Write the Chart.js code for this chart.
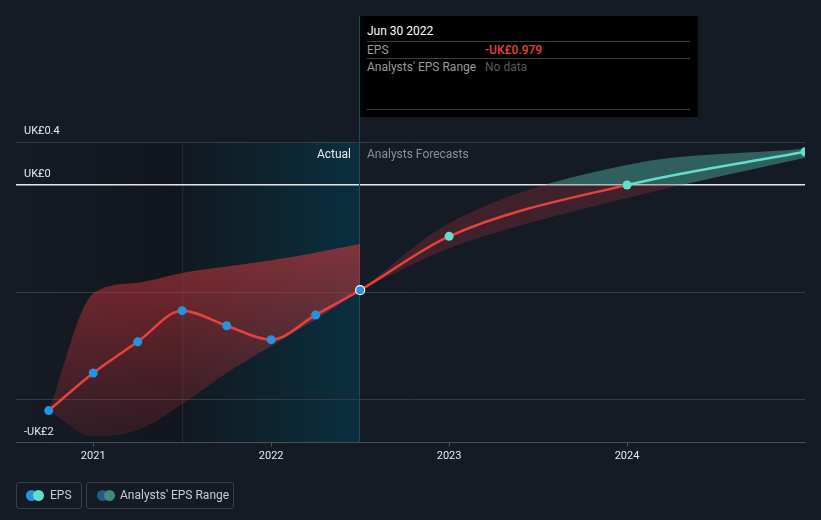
<!DOCTYPE html>
<html><head><meta charset="utf-8">
<script src="https://cdn.jsdelivr.net/npm/chart.js@4/dist/chart.umd.min.js"></script>
<style>
body{margin:0;background:#151b25;font-family:Roboto,"Open Sans",sans-serif;}
#wrap{position:relative;width:821px;height:520px;overflow:hidden;}
#c{position:absolute;left:0;top:0;}
#tip{position:absolute;left:360px;top:16px;width:338px;height:101px;background:#000;}
#tip .t{position:absolute;left:7px;top:8px;font-size:12px;color:#fff;}
#tip .hr{position:absolute;left:7px;width:323px;height:1px;background:#3e3e3e;}
#tip .k{position:absolute;left:7px;font-size:12px;color:#9a9a9a;}
#tip .v{position:absolute;left:125px;font-size:12px;}
.lg{position:absolute;top:482px;height:27px;border:1px solid #3b404a;border-radius:3px;box-sizing:border-box;}
.lg .d{position:absolute;top:7px;width:11px;height:11px;border-radius:50%;}
.lg span{position:absolute;top:5px;font-size:12px;color:#c9ccd1;white-space:nowrap;}
</style></head><body>
<div id="wrap"><canvas id="c" width="821" height="520"></canvas>
<div id="tip"></div>
<div class="lg" style="left:16px;width:66px"><div class="d" style="left:9px;background:#2594e0"></div><div class="d" style="left:16px;background:#5fe0cb"></div><span style="left:33px">EPS</span></div>
<div class="lg" style="left:86px;width:148px"><div class="d" style="left:10px;background:#1f5c86"></div><div class="d" style="left:17px;background:#3e8a80"></div><span style="left:33px">Analysts' EPS Range</span></div>
</div>
<script>
// ---- data ----
const actualX   = [2020.75, 2021.0, 2021.25, 2021.5, 2021.75, 2022.0, 2022.25, 2022.5];
const actualEPS = [-2.10, -1.75, -1.46, -1.17, -1.31, -1.44, -1.21, -0.979];
const pastHigh  = [-2.10, -1.01, -0.91, -0.82, -0.76, -0.70, -0.63, -0.55];
const pastLow   = [-2.10, -2.34, -2.28, -2.04, -1.75, -1.50, -1.25, -0.98];
const forecastX    = [2022.5, 2023.0, 2024.0, 2025.0];
const forecastEPS  = [-0.979, -0.478, 0.0, 0.309];
const forecastHigh = [-0.979, -0.356, 0.187, 0.337];
const forecastLow  = [-0.979, -0.590, -0.122, 0.253];
const xTickYears = [2021, 2022, 2023, 2024];
const yGridValues = [0.4, 0, -1, -2];
const yLabelValues = [0.4, 0, -2];
const yLabelTexts = ['UK£0.4', 'UK£0', '-UK£2'];
const tipDate = 'Jun 30 2022';
const tipEPS = -0.979;

const RED = '#e5423f', TEAL = '#5fe0cb', BLUE = '#2594e0';

// tooltip box
const tip = document.getElementById('tip');
tip.innerHTML =
 `<div class="t">${tipDate}</div><div class="hr" style="top:25px"></div>
  <div class="k" style="top:27px">EPS</div><div class="v" style="top:27px;color:#e5423f;font-weight:500">${tipEPS<0?'-':''}UK£${Math.abs(tipEPS).toFixed(3)}</div>
  <div class="hr" style="top:42px"></div>
  <div class="k" style="top:44px">Analysts' EPS Range</div><div class="v" style="top:44px;color:#5a5a5a">No data</div>
  <div class="hr" style="top:93px"></div>`;

const pts = (xs, ys) => xs.map((x, i) => ({x, y: ys[i]}));
const epsX = actualX.concat(forecastX.slice(1));
const epsY = actualEPS.concat(forecastEPS.slice(1));
const nAct = actualX.length;

function pastFill(ctx) {
  const ch = ctx.chart, ca = ch.chartArea;
  if (!ca) return 'rgba(200,50,55,0.4)';
  const y = ch.scales.y;
  const g = ch.ctx.createLinearGradient(0, y.getPixelForValue(-0.6), 0, y.getPixelForValue(-2.35));
  g.addColorStop(0, 'rgba(210,55,60,0.58)');
  g.addColorStop(1, 'rgba(180,45,55,0.18)');
  return g;
}
function fcFill(ctx) {
  const ch = ctx.chart, ca = ch.chartArea;
  if (!ca) return 'rgba(200,50,55,0.3)';
  const y = ch.scales.y;
  const z = (y.getPixelForValue(0) - ca.top) / (ca.bottom - ca.top);
  const g = ch.ctx.createLinearGradient(0, ca.top, 0, ca.bottom);
  g.addColorStop(0, 'rgba(75,165,150,0.5)');
  g.addColorStop(z, 'rgba(75,165,150,0.5)');
  g.addColorStop(Math.min(1, z + 0.0001), 'rgba(175,50,60,0.28)');
  g.addColorStop(1, 'rgba(175,50,60,0.28)');
  return g;
}

const bgPlugin = {
  id: 'bg',
  beforeDraw(ch) {
    const c = ch.ctx, ca = ch.chartArea, x = ch.scales.x;
    c.save();
    c.fillStyle = '#151b25';
    c.fillRect(0, 0, ch.width, ch.height);
    const a = x.getPixelForValue(2021.5), b = x.getPixelForValue(2022.5);
    let g = c.createLinearGradient(ca.left, 0, a, 0);
    g.addColorStop(0, 'rgba(0,0,0,0)'); g.addColorStop(1, 'rgba(0,0,0,0.2)');
    c.fillStyle = g; c.fillRect(ca.left, ca.top, a - ca.left, ca.bottom - ca.top);
    g = c.createLinearGradient(a, 0, b, 0);
    g.addColorStop(0, '#111920'); g.addColorStop(1, '#0a2f3f');
    c.fillStyle = g; c.fillRect(a, ca.top, b - a, ca.bottom - ca.top);
    c.fillStyle = 'rgba(45,95,115,0.35)'; c.fillRect(a, ca.top, 1, ca.bottom - ca.top);
    c.restore();
  },
  beforeDatasetsDraw(ch) {
    const c = ch.ctx, ca = ch.chartArea, x = ch.scales.x;
    const b = Math.round(x.getPixelForValue(2022.5)) - 1;
    c.save();
    c.fillStyle = '#1d4b5e';
    c.fillRect(b, 16, 1, ca.bottom - 16);
    c.font = '12px Roboto, "Open Sans", sans-serif';
    c.textBaseline = 'middle';
    c.textAlign = 'right'; c.fillStyle = '#e8eaed';
    c.fillText('Actual', b - 8, ca.top + 13);
    c.textAlign = 'left'; c.fillStyle = '#8a9099';
    c.fillText('Analysts Forecasts', b + 8, ca.top + 13);
    c.restore();
  },
  afterDatasetsDraw(ch) {
    const c = ch.ctx, ca = ch.chartArea, y = ch.scales.y;
    c.save();
    c.font = '11px Roboto, "Open Sans", sans-serif';
    c.textBaseline = 'middle'; c.textAlign = 'left'; c.fillStyle = '#e8eaed';
    yLabelValues.forEach((v, i) => {
      let py = y.getPixelForValue(v) - 11;
      if (i === yLabelValues.length - 1) py = ca.bottom - 11;
      c.fillText(yLabelTexts[i], ca.left + 8, py);
    });
    c.restore();
  }
};

new Chart(document.getElementById('c'), {
  type: 'line',
  data: {
    datasets: [
      { label: 'EPS', data: pts(epsX, epsY), borderWidth: 2.5, tension: 0, cubicInterpolationMode: 'monotone',
        borderColor: RED,
        segment: { borderColor: s => s.p0.parsed.y >= 0 ? TEAL : RED },
        pointRadius: 4.5, pointHoverRadius: 4.5,
        pointBackgroundColor: epsX.map((_, i) => i < nAct ? BLUE : TEAL),
        pointBorderColor: epsX.map((_, i) => i === nAct - 1 ? '#ffffff' : 'rgba(0,0,0,0)'),
        pointBorderWidth: epsX.map((_, i) => i === nAct - 1 ? 1.2 : 0),
        fill: false },
      { label: 'fh', data: pts(forecastX, forecastHigh), borderWidth: 0, pointRadius: 0, cubicInterpolationMode: 'monotone', fill: '+1', backgroundColor: fcFill },
      { label: 'fl', data: pts(forecastX, forecastLow), borderWidth: 0, pointRadius: 0, cubicInterpolationMode: 'monotone', fill: false },
      { label: 'ph', data: pts(actualX, pastHigh), borderWidth: 0, pointRadius: 0, cubicInterpolationMode: 'monotone', fill: '+1', backgroundColor: pastFill },
      { label: 'pl', data: pts(actualX, pastLow), borderWidth: 0, pointRadius: 0, cubicInterpolationMode: 'monotone', fill: false }
    ]
  },
  options: {
    responsive: false, animation: false, events: [],
    layout: { padding: { left: 16, right: 16, top: 142, bottom: 54 } },
    plugins: { legend: { display: false }, tooltip: { enabled: false } },
    scales: {
      x: { type: 'linear', min: 2020.566, max: 2025.0,
        afterBuildTicks: s => { s.ticks = xTickYears.map(v => ({ value: v })); },
        ticks: { color: '#e8eaed', font: { size: 11, family: 'Roboto' }, padding: 3, callback: v => String(v), maxRotation: 0 },
        grid: { drawOnChartArea: false, drawTicks: true, tickLength: 4, color: '#4a4f58' },
        border: { display: true, color: '#4a4f58', width: 1 } },
      y: { min: -2.4, max: 0.4,
        afterBuildTicks: s => { s.ticks = yGridValues.map(v => ({ value: v })); },
        ticks: { display: false },
        grid: { drawTicks: false, color: c => c.tick && c.tick.value === 0 ? '#e6e6e6' : '#363b44', lineWidth: c => c.tick && c.tick.value === 0 ? 1.5 : 1 },
        border: { display: false } }
    }
  },
  plugins: [bgPlugin]
});
</script>
</body></html>
